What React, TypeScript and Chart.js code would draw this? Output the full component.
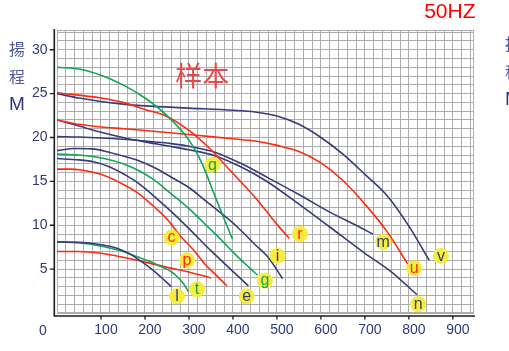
import React, { useEffect, useRef } from "react";
import { Chart, registerables } from "chart.js";

Chart.register(...registerables);

const NAVY = "#363b7a";
const RED = "#ff2a12";
const GREEN = "#13a557";
const GRID = "#adadad";
const TICK_COLOR = "#2f3a7c";
const FONT = '"Liberation Sans", Arial, sans-serif';

const X_MIN = 0;
const X_MAX = 948;
const Y_MIN = 0;
const Y_MAX = 32.25;
const X_STEP = 20;
const Y_STEP = 1;
const X_LABEL_EVERY = 100;
const Y_LABEL_EVERY = 5;

// curve q (green)
const FLOW_Q = [0, 50, 100, 150, 200, 250, 300, 330, 360, 399];
const HEAD_Q = [28.0, 27.8, 27.1, 26.0, 24.5, 22.5, 19.7, 17.0, 13.2, 8.4];
// curve r (red)
const FLOW_R = [0, 100, 150, 200, 250, 300, 350, 400, 450, 500, 528];
const HEAD_R = [25.1, 24.5, 24.0, 23.2, 22.4, 20.8, 18.6, 15.9, 13.2, 10.1, 8.5];
// curve v (navy)
const FLOW_V = [0, 50, 100, 150, 200, 300, 400, 450, 500, 550, 600, 650, 700, 750, 800, 846];
const HEAD_V = [25.0, 24.5, 24.1, 23.8, 23.6, 23.35, 23.1, 22.9, 22.45, 21.5, 20.0, 18.1, 15.8, 13.4, 9.9, 6.0];
// curve u (red)
const FLOW_U = [0, 50, 100, 150, 200, 300, 400, 450, 500, 550, 600, 650, 700, 750, 797];
const HEAD_U = [22.0, 21.5, 21.2, 21.0, 20.8, 20.35, 19.85, 19.6, 19.1, 18.4, 17.1, 15.1, 12.4, 9.3, 5.6];
// curve n (navy)
const FLOW_N = [0, 50, 100, 150, 200, 250, 300, 360, 420, 480, 550, 620, 700, 760, 818];
const HEAD_N = [22.0, 21.3, 20.6, 20.0, 19.5, 19.05, 18.6, 17.9, 16.6, 14.9, 12.4, 9.8, 6.8, 4.7, 2.1];
// curve m (navy)
const FLOW_M = [0, 50, 100, 150, 200, 260, 300, 360, 420, 480, 550, 620, 680, 718];
const HEAD_M = [20.1, 20.05, 19.95, 19.8, 19.6, 19.3, 19.0, 18.3, 17.0, 15.4, 13.5, 11.5, 10.0, 9.0];
// curve i (navy)
const FLOW_I = [0, 40, 80, 120, 150, 183, 220, 259, 300, 335, 370, 410, 450, 479, 513];
const HEAD_I = [18.5, 18.75, 18.7, 18.3, 17.9, 17.4, 16.6, 15.5, 14.3, 12.9, 11.5, 9.8, 7.8, 6.4, 3.9];
// curve g (green)
const FLOW_G = [0, 50, 107, 150, 183, 220, 259, 300, 335, 370, 403, 430, 456];
const HEAD_G = [18.1, 18.0, 17.6, 17.0, 16.3, 15.2, 13.6, 11.9, 10.2, 8.5, 6.8, 5.5, 4.3];
// curve e (navy)
const FLOW_E = [0, 50, 85, 120, 160, 190, 221, 250, 282, 320, 350, 390, 435];
const HEAD_E = [17.6, 17.45, 17.2, 16.65, 15.6, 14.6, 13.3, 12.0, 10.5, 8.6, 7.1, 5.2, 3.1];
// curve c (red)
const FLOW_C = [0, 30, 55, 100, 145, 180, 221, 250, 282, 310, 335, 360, 386];
const HEAD_C = [16.4, 16.4, 16.3, 15.8, 14.8, 13.8, 12.1, 10.7, 8.7, 7.2, 5.65, 4.4, 3.1];
// curve l (navy)
const FLOW_L = [0, 50, 85, 120, 145, 170, 198, 220, 236, 260];
const HEAD_L = [8.1, 8.05, 7.9, 7.6, 7.2, 6.6, 5.65, 4.8, 4.1, 3.0];
// curve t (green)
const FLOW_T = [0, 50, 107, 150, 183, 210, 236, 260, 274, 288, 299];
const HEAD_T = [8.1, 8.0, 7.55, 7.0, 6.4, 5.9, 5.3, 4.7, 4.1, 3.3, 2.4];
// curve p (red)
const FLOW_P = [0, 50, 100, 145, 200, 250, 297, 350];
const HEAD_P = [7.0, 7.0, 6.8, 6.4, 5.8, 5.2, 4.7, 4.0];

const CURVES = [
  { flow: FLOW_Q, head: HEAD_Q, color: GREEN },
  { flow: FLOW_R, head: HEAD_R, color: RED },
  { flow: FLOW_V, head: HEAD_V, color: NAVY },
  { flow: FLOW_U, head: HEAD_U, color: RED },
  { flow: FLOW_N, head: HEAD_N, color: NAVY },
  { flow: FLOW_M, head: HEAD_M, color: NAVY },
  { flow: FLOW_I, head: HEAD_I, color: NAVY },
  { flow: FLOW_G, head: HEAD_G, color: GREEN },
  { flow: FLOW_E, head: HEAD_E, color: NAVY },
  { flow: FLOW_C, head: HEAD_C, color: RED },
  { flow: FLOW_L, head: HEAD_L, color: NAVY },
  { flow: FLOW_T, head: HEAD_T, color: GREEN },
  { flow: FLOW_P, head: HEAD_P, color: RED },
];

// curve tags (yellow badges)
const LABEL_TEXT = ["q", "c", "p", "l", "t", "e", "g", "i", "r", "m", "u", "n", "v"];
const LABEL_FLOW = [353.6, 260.5, 295.5, 272.7, 318.2, 431, 472.7, 501.4, 552.3, 741.6, 812, 821, 872.7];
const LABEL_HEAD = [16.9, 8.6, 6.0, 1.9, 2.7, 1.9, 3.7, 6.5, 9.0, 8.1, 5.1, 1.0, 6.5];
const LABEL_COLOR = [GREEN, RED, RED, NAVY, GREEN, NAVY, GREEN, NAVY, RED, NAVY, RED, NAVY, NAVY];
const LABEL_FILL = "#f6ec3d";

const WATERMARK = "样本";
const WM_FLOW = 330;
const WM_HEAD = 27;
const FREQ_TEXT = "50HZ";
const AXIS_TITLE = ["揚", "程", "M"];

const isMult = (v: number, m: number) => {
  const r = Math.round(v);
  return Math.abs(v - r) < 1e-6 && r % m === 0;
};

const decor = {
  id: "decor",
  beforeDatasetsDraw(chart: any) {
    const { ctx, chartArea: a } = chart;
    const xs = chart.scales.x;
    const ys = chart.scales.y;
    ctx.save();
    ctx.strokeStyle = GRID;
    ctx.lineWidth = 1;
    ctx.strokeRect(
      Math.round(a.left) + 0.5,
      Math.round(a.top) + 0.5,
      Math.round(a.right - a.left) - 1,
      Math.round(a.bottom - a.top) - 1
    );
    ctx.font = '27px "Noto Sans CJK SC"';
    ctx.fillStyle = "#e8474c";
    ctx.textAlign = "center";
    ctx.textBaseline = "middle";
    ctx.fillText(WATERMARK, xs.getPixelForValue(WM_FLOW), ys.getPixelForValue(WM_HEAD));
    ctx.restore();
  },
  afterDatasetsDraw(chart: any) {
    const { ctx } = chart;
    const meta = chart.getDatasetMeta(CURVES.length);
    ctx.save();
    ctx.font = `16px ${FONT}`;
    ctx.textAlign = "center";
    ctx.textBaseline = "middle";
    meta.data.forEach((pt: any, i: number) => {
      ctx.fillStyle = LABEL_COLOR[i];
      ctx.fillText(LABEL_TEXT[i], pt.x, pt.y + 0.5);
    });
    ctx.restore();
  },
  afterDraw(chart: any) {
    const { ctx, chartArea: a } = chart;
    const xs = chart.scales.x;
    const ys = chart.scales.y;
    ctx.save();
    // axes
    ctx.strokeStyle = "#1c1c1c";
    ctx.lineWidth = 1.6;
    const ax = a.left - 2.7;
    const ay = a.bottom + 3;
    ctx.beginPath();
    ctx.moveTo(ax, a.top - 1);
    ctx.lineTo(ax, ay);
    ctx.lineTo(a.right + 1, ay);
    ctx.stroke();
    ctx.lineWidth = 1.3;
    ctx.beginPath();
    for (let v = Y_LABEL_EVERY; v <= 30; v += Y_LABEL_EVERY) {
      const py = ys.getPixelForValue(v);
      ctx.moveTo(ax - 4.5, py);
      ctx.lineTo(ax, py);
    }
    for (let v = X_LABEL_EVERY; v <= 900; v += X_LABEL_EVERY) {
      const px = xs.getPixelForValue(v);
      ctx.moveTo(px, ay);
      ctx.lineTo(px, ay + 3.5);
    }
    ctx.stroke();
    // origin label
    ctx.fillStyle = TICK_COLOR;
    ctx.font = `14px ${FONT}`;
    ctx.textAlign = "center";
    ctx.textBaseline = "middle";
    ctx.fillText("0", xs.getPixelForValue(0) - 14, a.bottom + 17.7);
    // frequency
    ctx.fillStyle = "#ff0000";
    ctx.font = `21px ${FONT}`;
    ctx.textAlign = "right";
    ctx.textBaseline = "alphabetic";
    ctx.fillText(FREQ_TEXT, a.right + 1.5, 17.5);
    // axis titles (left, and clipped copy at right edge)
    ctx.textAlign = "center";
    ctx.textBaseline = "middle";
    const leftYs = [49, 77, 105];
    const rightYs = [44, 72, 100];
    AXIS_TITLE.forEach((ch, i) => {
      if (ch === "M") {
        ctx.font = `19px ${FONT}`;
        ctx.fillStyle = "#2d3680";
      } else {
        ctx.font = '16px "Noto Sans CJK TC"';
        ctx.fillStyle = "#525b9a";
      }
      ctx.fillText(ch, 17, leftYs[i]);
      ctx.fillText(ch, 513, rightYs[i]);
    });
    ctx.restore();
  },
};

export default function App() {
  const ref = useRef<HTMLCanvasElement>(null);
  useEffect(() => {
    const canvas = ref.current;
    if (!canvas) return;
    const datasets: any[] = CURVES.map((c) => ({
      data: c.flow.map((x, i) => ({ x, y: c.head[i] })),
      borderColor: c.color,
      borderWidth: 1.6,
      pointRadius: 0,
      fill: false,
      cubicInterpolationMode: "monotone",
      order: 2,
    }));
    datasets.push({
      data: LABEL_FLOW.map((x, i) => ({ x, y: LABEL_HEAD[i] })),
      showLine: false,
      pointRadius: 8,
      pointBackgroundColor: LABEL_FILL,
      pointBorderWidth: 0,
      borderColor: LABEL_FILL,
      order: 0,
    });
    const tickFont = { family: FONT, size: 14 };
    const chart = new Chart(canvas, {
      type: "line",
      data: { datasets },
      options: {
        animation: false,
        responsive: false,
        devicePixelRatio: 1,
        layout: { padding: { top: 30, right: 35, left: 0, bottom: 0 } },
        plugins: { legend: { display: false }, tooltip: { enabled: false } },
        scales: {
          x: {
            type: "linear",
            min: X_MIN,
            max: X_MAX,
            afterFit: (s: any) => {
              s.height = 38;
            },
            ticks: {
              stepSize: X_STEP,
              autoSkip: false,
              includeBounds: false,
              maxRotation: 0,
              minRotation: 0,
              padding: 9,
              labelOffset: 5,
              color: TICK_COLOR,
              font: tickFont,
              callback: (v: any) => (isMult(v, X_LABEL_EVERY) && v > 0 ? String(Math.round(v)) : ""),
            },
            grid: { color: GRID, lineWidth: 1, drawTicks: false },
            border: { display: false },
          },
          y: {
            type: "linear",
            min: Y_MIN,
            max: Y_MAX,
            afterFit: (s: any) => {
              s.width = 57;
            },
            ticks: {
              stepSize: Y_STEP,
              autoSkip: false,
              includeBounds: false,
              padding: 9.5,
              color: TICK_COLOR,
              font: tickFont,
              callback: (v: any) => (isMult(v, Y_LABEL_EVERY) && v > 0 ? String(Math.round(v)) : ""),
            },
            grid: { color: GRID, lineWidth: 1, drawTicks: false },
            border: { display: false },
          },
        },
      } as any,
      plugins: [decor],
    });
    return () => chart.destroy();
  }, []);
  return (
    <div style={{ position: "fixed", left: 0, top: 0, width: 509, height: 351, background: "#fff" }}>
      <canvas ref={ref} width={509} height={351} style={{ display: "block" }} />
    </div>
  );
}
